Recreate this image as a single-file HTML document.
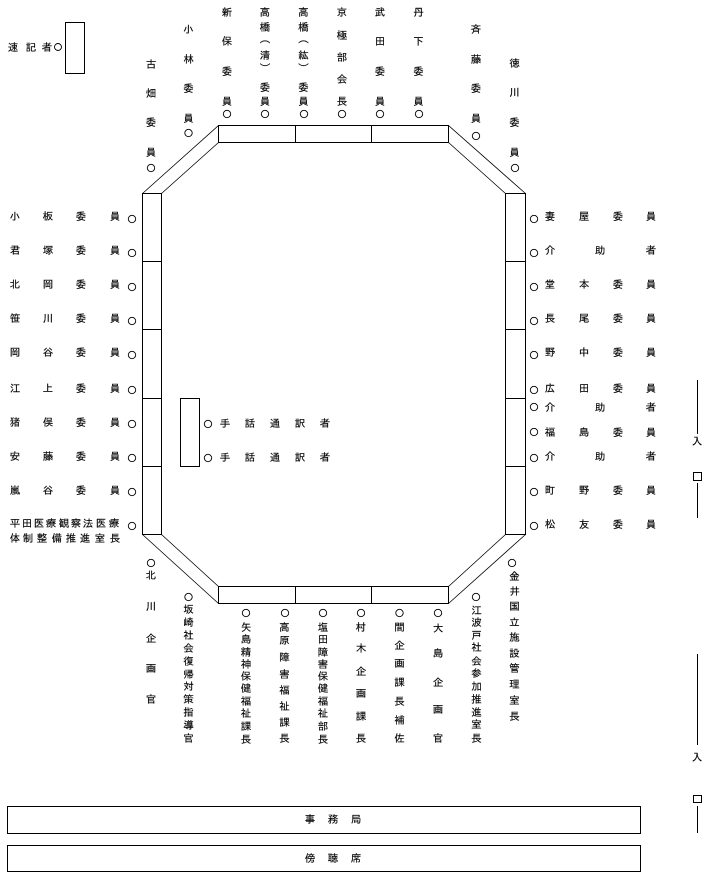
<!DOCTYPE html>
<html lang="ja"><head><meta charset="utf-8"><title>座席表</title>
<style>
html,body{margin:0;padding:0;background:#fff}
svg{display:block}
text{font-family:"Liberation Sans","IPAGothic","Noto Sans CJK JP",sans-serif;font-size:10.500px;fill:#000;stroke:#000;stroke-width:.15;text-anchor:middle}
.b rect,.b path.s{fill:none;stroke:#000;stroke-width:1;shape-rendering:crispEdges}
.d{fill:none;stroke:#000;stroke-width:.8}
circle{fill:none;stroke:#000;stroke-width:.9}
</style></head><body>
<svg width="708" height="877" viewBox="0 0 708 877" xmlns="http://www.w3.org/2000/svg">
<g class="b">
<rect x="65.500" y="22.500" width="19" height="51"/>
<rect x="142.500" y="193.500" width="19" height="341"/>
<path class="s" d="M142 261.500H162M142 329.500H162M142 398.500H162M142 466.500H162"/>
<rect x="505.500" y="193.500" width="20" height="341"/>
<path class="s" d="M505 261.500H526M505 329.500H526M505 398.500H526M505 466.500H526"/>
<rect x="218.500" y="125.500" width="230" height="17"/>
<path class="s" d="M295.500 125V143M371.500 125V143"/>
<rect x="218.500" y="586.500" width="230" height="17"/>
<path class="s" d="M295.500 586V604M371.500 586V604"/>
<rect x="180.500" y="398.500" width="19" height="68"/>
<rect x="7.500" y="806.500" width="633" height="27"/>
<rect x="7.500" y="845.500" width="633" height="26"/>
<rect x="693.500" y="472.500" width="8" height="8"/>
<rect x="693.500" y="795.500" width="8" height="7"/>
<path class="s" d="M697.500 380V434M697.500 483V518M697.500 654V745M697.500 806V833"/>
</g>
<path class="d" d="M142.500 193.500L218.500 125.500M161.500 193.500L218.500 142.500M448.500 125.500L525.500 193.500M448.500 142.500L505.500 193.500M142.500 534.500L218.500 603.500M161.500 534.500L218.500 586.500M448.500 603.500L525.500 534.500M448.500 586.500L505.500 534.500"/>

<!-- top -->
<text x="13 31 47" y="51">速記者</text><circle cx="58" cy="47" r="3.500"/>
<text x="151 151 151 151" y="68 97 126 156">古畑委員</text><circle cx="151" cy="168" r="3.700"/>
<text x="188.500 188.500 188.500 188.500" y="33 63 92 122">小林委員</text><circle cx="188.500" cy="133" r="3.700"/>
<text x="227 227 227 227" y="16 45 75 105">新保委員</text><circle cx="227" cy="114" r="3.700"/>
<text x="265 265 265 265 265 265 265" y="16 31 42 59 72 91 105">高橋︵清︶委員</text><circle cx="265" cy="114" r="3.700"/>
<text x="303.500 303.500 303.500 303.500 303.500 303.500 303.500" y="16 31 42 59 72 91 105">高橋︵紘︶委員</text><circle cx="304" cy="114" r="3.700"/>
<text x="342 342 342 342 342" y="16 39 61 83 105">京極部会長</text><circle cx="342" cy="114" r="3.700"/>
<text x="380 380 380 380" y="16 45 75 105">武田委員</text><circle cx="380" cy="114" r="3.700"/>
<text x="418.500 418.500 418.500 418.500" y="16 45 75 105">丹下委員</text><circle cx="419" cy="114" r="3.700"/>
<text x="476 476 476 476" y="33 63 92 122">斉藤委員</text><circle cx="476" cy="136" r="3.700"/>
<text x="514.500 514.500 514.500 514.500" y="67 96 126 156">徳川委員</text><circle cx="515" cy="168" r="3.700"/>

<!-- left -->
<text x="15 48 81 115" y="220">小板委員</text><circle cx="132" cy="219" r="3.700"/>
<text x="15 48 81 115" y="254">君塚委員</text><circle cx="132" cy="253" r="3.700"/>
<text x="15 48 81 115" y="288">北岡委員</text><circle cx="132" cy="287" r="3.700"/>
<text x="15 48 81 115" y="322">笹川委員</text><circle cx="132" cy="321" r="3.700"/>
<text x="15 48 81 115" y="356">岡谷委員</text><circle cx="132" cy="355" r="3.700"/>
<text x="15 48 81 115" y="392">江上委員</text><circle cx="132" cy="390" r="3.700"/>
<text x="15 48 81 115" y="426">猪俣委員</text><circle cx="132" cy="424" r="3.700"/>
<text x="15 48 81 115" y="460">安藤委員</text><circle cx="132" cy="458" r="3.700"/>
<text x="15 48 81 115" y="494">嵐谷委員</text><circle cx="132" cy="492" r="3.700"/>
<text x="15 27 39 51 64 76 88 101 114" y="527">平田医療観察法医療</text><circle cx="132" cy="526" r="3.700"/>
<text x="15 28 42 57 71 85 100 115" y="542">体制整備推進室長</text>

<!-- right -->
<circle cx="534" cy="219" r="3.700"/><text x="550 584 618 651" y="220">妻屋委員</text>
<circle cx="534" cy="253" r="3.700"/><text x="550 600 651" y="254">介助者</text>
<circle cx="534" cy="287" r="3.700"/><text x="550 584 618 651" y="288">堂本委員</text>
<circle cx="534" cy="321" r="3.700"/><text x="550 584 618 651" y="322">長尾委員</text>
<circle cx="534" cy="355" r="3.700"/><text x="550 584 618 651" y="356">野中委員</text>
<circle cx="534" cy="390" r="3.700"/><text x="550 584 618 651" y="392">広田委員</text>
<circle cx="534" cy="407" r="3.700"/><text x="550 600 651" y="411">介助者</text>
<circle cx="534" cy="432" r="3.700"/><text x="550 584 618 651" y="436">福島委員</text>
<circle cx="534" cy="458" r="3.700"/><text x="550 600 651" y="460">介助者</text>
<circle cx="534" cy="492" r="3.700"/><text x="550 584 618 651" y="494">町野委員</text>
<circle cx="534" cy="526" r="3.700"/><text x="550 584 618 651" y="528">松友委員</text>

<!-- interpreters -->
<circle cx="208" cy="424" r="3.700"/><text x="225 250 275 300 325" y="427">手話通訳者</text>
<circle cx="208" cy="458" r="3.700"/><text x="225 250 275 300 325" y="461">手話通訳者</text>

<!-- bottom -->
<circle cx="151" cy="563" r="3.700"/><text x="151 151 151 151 151" y="579 610 642 672 703">北川企画官</text>
<circle cx="188.500" cy="597" r="3.700"/><text x="188.500 188.500 188.500 188.500 188.500 188.500 188.500 188.500 188.500 188.500 188.500" y="613 626 639 652 665 678 690 703 716 729 742">坂崎社会復帰対策指導官</text>
<circle cx="246" cy="613" r="3.700"/><text x="246 246 246 246 246 246 246 246 246 246" y="631 643 656 668 680 692 705 717 730 743">矢島精神保健福祉課長</text>
<circle cx="285" cy="613" r="3.700"/><text x="284.500 284.500 284.500 284.500 284.500 284.500 284.500 284.500" y="631 644 661 678 694 710 726 742">高原障害福祉課長</text>
<circle cx="323" cy="613" r="3.700"/><text x="323 323 323 323 323 323 323 323 323 323" y="631 643 656 668 680 692 705 717 730 743">塩田障害保健福祉部長</text>
<circle cx="361" cy="613" r="3.700"/><text x="361 361 361 361 361 361" y="631 652 675 697 720 742">村木企画課長</text>
<circle cx="399.500" cy="613" r="3.700"/><text x="399.500 399.500 399.500 399.500 399.500 399.500 399.500" y="631 649 667 686 705 724 742">間企画課長補佐</text>
<circle cx="438" cy="613" r="3.700"/><text x="438 438 438 438 438" y="632 657 686 713 742">大島企画官</text>
<circle cx="476" cy="597" r="3.700"/><text x="476.500 476.500 476.500 476.500 476.500 476.500 476.500 476.500 476.500 476.500 476.500" y="614 626 639 651 665 677 690 703 716 728 742">江波戸社会参加推進室長</text>
<circle cx="512" cy="563" r="3.700"/><text x="514.500 514.500 514.500 514.500 514.500 514.500 514.500 514.500 514.500 514.500" y="580 595 610 626 641 657 672 688 704 720">金井国立施設管理室長</text>

<!-- entrance -->
<text x="697" y="445">入</text>
<text x="697" y="761">入</text>

<!-- bars -->
<text x="310 333 356" y="823">事務局</text>
<text x="310 333 356" y="862">傍聴席</text>
</svg>
</body></html>
